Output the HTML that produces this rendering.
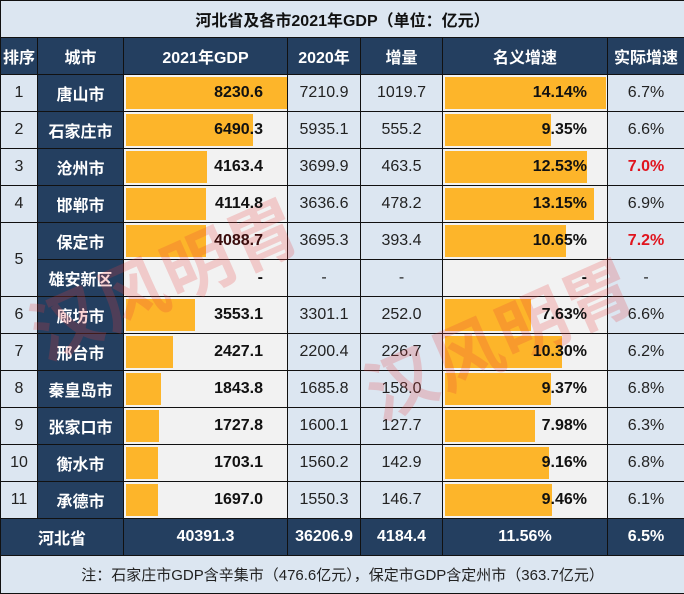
<!DOCTYPE html><html><head><meta charset="utf-8"><style>
body{margin:0;width:684px;height:593px;overflow:hidden;background:#fff;font-family:"Liberation Sans","Noto Sans CJK SC",sans-serif;position:relative}
table{position:absolute;left:0;top:0;border-collapse:collapse;table-layout:fixed;width:684px}
td{border:1px solid #111;height:36px;padding:0;text-align:center;font-size:16px;color:#222;background:#dce6f1;position:relative;overflow:hidden}
.t td{background:#dce6f1;font-weight:bold;font-size:16px;color:#111}
.h td{background:#243f60;color:#fff;font-weight:bold}
td.c{background:#243f60;color:#fff;font-weight:bold}
td.g{background:#f2f2f2;font-weight:bold;color:#111;text-align:right}
td.g span{position:relative;z-index:1;padding-right:24px}
td.p span{padding-right:20px}
.b{position:absolute;left:2px;top:2px;bottom:2px;background:#fdb52a}
.red{color:#e0141e;font-weight:bold}
.tot td{background:#243f60;color:#fff;font-weight:bold}
.n td{background:#dce6f1;font-size:15px;color:#222}
.wm{position:absolute;color:rgba(230,60,60,.22);font-size:70px;font-weight:bold;transform:rotate(-24deg);white-space:nowrap;pointer-events:none;letter-spacing:2px}
</style></head><body>
<table>
<col style="width:37px"><col style="width:86px"><col style="width:164px"><col style="width:73px"><col style="width:82px"><col style="width:165px"><col style="width:77px">
<tr class="t"><td colspan="7">河北省及各市2021年GDP（单位：亿元）</td></tr>
<tr class="h"><td>排序</td><td>城市</td><td>2021年GDP</td><td>2020年</td><td>增量</td><td>名义增速</td><td>实际增速</td></tr>
<tr><td>1</td><td class="c">唐山市</td><td class="g"><div class="b" style="width:161px"></div><span>8230.6</span></td><td>7210.9</td><td>1019.7</td><td class="g p"><div class="b" style="width:161px"></div><span>14.14%</span></td><td>6.7%</td></tr>
<tr><td>2</td><td class="c">石家庄市</td><td class="g"><div class="b" style="width:127px"></div><span>6490.3</span></td><td>5935.1</td><td>555.2</td><td class="g p"><div class="b" style="width:106px"></div><span>9.35%</span></td><td>6.6%</td></tr>
<tr><td>3</td><td class="c">沧州市</td><td class="g"><div class="b" style="width:81px"></div><span>4163.4</span></td><td>3699.9</td><td>463.5</td><td class="g p"><div class="b" style="width:142px"></div><span>12.53%</span></td><td class="red">7.0%</td></tr>
<tr><td>4</td><td class="c">邯郸市</td><td class="g"><div class="b" style="width:80px"></div><span>4114.8</span></td><td>3636.6</td><td>478.2</td><td class="g p"><div class="b" style="width:149px"></div><span>13.15%</span></td><td>6.9%</td></tr>
<tr><td rowspan="2">5</td><td class="c">保定市</td><td class="g"><div class="b" style="width:80px"></div><span style="color:#3a0d0d">4088.7</span></td><td>3695.3</td><td>393.4</td><td class="g p"><div class="b" style="width:121px"></div><span>10.65%</span></td><td class="red">7.2%</td></tr>
<tr><td class="c">雄安新区</td><td class="g"><span>-</span></td><td>-</td><td>-</td><td class="g p"><span>-</span></td><td>-</td></tr>
<tr><td>6</td><td class="c">廊坊市</td><td class="g"><div class="b" style="width:69px"></div><span>3553.1</span></td><td>3301.1</td><td>252.0</td><td class="g p"><div class="b" style="width:86px"></div><span>7.63%</span></td><td>6.6%</td></tr>
<tr><td>7</td><td class="c">邢台市</td><td class="g"><div class="b" style="width:47px"></div><span>2427.1</span></td><td>2200.4</td><td>226.7</td><td class="g p"><div class="b" style="width:117px"></div><span>10.30%</span></td><td>6.2%</td></tr>
<tr><td>8</td><td class="c">秦皇岛市</td><td class="g"><div class="b" style="width:35px"></div><span>1843.8</span></td><td>1685.8</td><td>158.0</td><td class="g p"><div class="b" style="width:106px"></div><span>9.37%</span></td><td>6.8%</td></tr>
<tr><td>9</td><td class="c">张家口市</td><td class="g"><div class="b" style="width:33px"></div><span>1727.8</span></td><td>1600.1</td><td>127.7</td><td class="g p"><div class="b" style="width:90px"></div><span>7.98%</span></td><td>6.3%</td></tr>
<tr><td>10</td><td class="c">衡水市</td><td class="g"><div class="b" style="width:32px"></div><span>1703.1</span></td><td>1560.2</td><td>142.9</td><td class="g p"><div class="b" style="width:104px"></div><span>9.16%</span></td><td>6.8%</td></tr>
<tr><td>11</td><td class="c">承德市</td><td class="g"><div class="b" style="width:32px"></div><span>1697.0</span></td><td>1550.3</td><td>146.7</td><td class="g p"><div class="b" style="width:107px"></div><span>9.46%</span></td><td>6.1%</td></tr>
<tr class="tot"><td colspan="2">河北省</td><td>40391.3</td><td>36206.9</td><td>4184.4</td><td>11.56%</td><td>6.5%</td></tr>
<tr class="n"><td colspan="7" style="height:37px">注：石家庄市GDP含辛集市（476.6亿元），保定市GDP含定州市（363.7亿元）</td></tr>
</table>
<div class="wm" style="left:20px;top:225px">汉风明胃</div>
<div class="wm" style="left:355px;top:285px">汉风明胃</div>
</body></html>
